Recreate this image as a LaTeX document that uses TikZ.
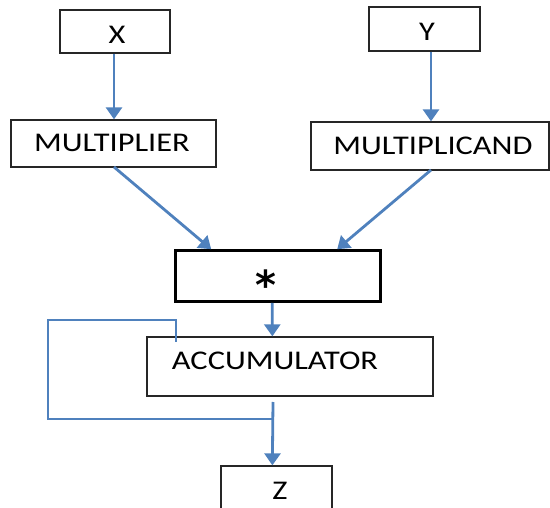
\documentclass[tikz,border=0pt]{standalone}
\usepackage{fontspec}
\setmainfont[FakeStretch=1.2]{Carlito}
\newfontfamily\astfont{DejaVu Sans}
\usetikzlibrary{arrows.meta,calc}
\definecolor{lineblue}{RGB}{79,129,189}
\tikzset{
  box/.style={draw=black!85, line width=1.3pt, inner sep=0pt},
  bigbox/.style={draw=black, line width=2.6pt, inner sep=0pt},
  conn/.style={draw=lineblue, line width=2.8pt},
  arr/.style={conn, -{Triangle[width=16pt,length=12pt]}},
  lbl/.style={font=\fontsize{27}{29}\selectfont, inner sep=0pt}
}
\begin{document}
\begin{tikzpicture}[x=1pt,y=-1pt]
\useasboundingbox (0,0) rectangle (550,508);
% boxes
\node[box, minimum width=110pt, minimum height=43pt] (X) at (115,31.5) {};
\node[lbl] (Xt) at (117,34.5) {X};
\node[box, minimum width=111pt, minimum height=44pt] (Y) at (424.5,29) {};
\node[lbl] (Yt) at (427,31.5) {Y};
\node[box, minimum width=205pt, minimum height=47pt] (M) at (113.5,143.5) {};
\node[lbl] (Mt) at (112,142.5) {MULTIPLIER};
\node[box, minimum width=238pt, minimum height=48pt] (C) at (430,146) {};
\node[lbl] (Ct) at (433,146) {MULTIPLICAND};
\node[bigbox, minimum width=205pt, minimum height=51pt] (S) at (278,276) {};
\node[inner sep=0pt, anchor=base, font=\astfont\bfseries\fontsize{40}{42}\selectfont] (St) at (266,300) {*};
\node[box, minimum width=286pt, minimum height=59pt] (A) at (290,366.5) {};
\node[lbl] (At) at (275,360.5) {ACCUMULATOR};
\node[box, minimum width=111pt, minimum height=60pt] (Z) at (276.5,496) {};
\node[lbl] (Zt) at (280,491) {Z};
% connectors
\coordinate (mS) at (114,167);
\coordinate (cS) at (431,170);
\draw[arr] ($(X.south)+(-1,0)$) -- ($(M.north)+(0.5,0)$);
\draw[arr] ($(Y.south)+(6.5,0)$) -- ($(C.north)+(1,0)$);
\draw[arr] (mS) -- ($(S.north west)+(37,0)$);
\draw[arr] (cS) -- ($(S.north west)+(163,0)$);
\draw[arr] ($(S.south west)+(98,0)$) -- ($(A.north west)+(126,0)$);
\coordinate (aOut) at (273,402);
\coordinate (br) at (273,419);
\draw[arr] (aOut) -- ($(Z.north west)+(52,0)$);
\draw[conn] (br) -- (48,419) -- (48,320) -- (176,320) -- (176,342);
\end{tikzpicture}
\end{document}
